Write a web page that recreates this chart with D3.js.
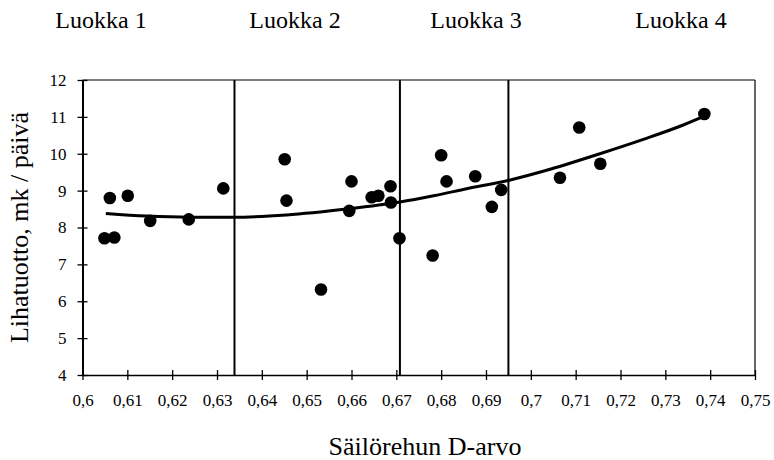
<!DOCTYPE html>
<html>
<head>
<meta charset="utf-8">
<script src="https://cdn.jsdelivr.net/npm/d3@7"></script>
<style>
  html, body { margin: 0; padding: 0; background: #fff; }
  svg, svg text { font-family: "Liberation Serif", "DejaVu Serif", "Times New Roman", serif !important; }
</style>
</head>
<body>
<svg id="chart" width="774" height="460"></svg>
<script>
// ---- data ----
const classLabels = ["Luokka 1", "Luokka 2", "Luokka 3", "Luokka 4"];
const classBounds = [0.6339, 0.6708, 0.695];
const xVals = [0.6049, 0.6071, 0.6061, 0.6101, 0.6151, 0.6237, 0.6314, 0.6451, 0.6455, 0.6532,
               0.6600, 0.6595, 0.6645, 0.6660, 0.6687, 0.6688, 0.6707, 0.6781, 0.6800, 0.6812,
               0.6876, 0.6913, 0.6934, 0.7065, 0.7108, 0.7155, 0.7387];
const yVals = [7.71, 7.73, 8.80, 8.86, 8.18, 8.22, 9.06, 9.85, 8.73, 6.32,
               9.25, 8.45, 8.82, 8.86, 9.12, 8.68, 7.71, 7.24, 9.96, 9.25,
               9.39, 8.56, 9.02, 9.35, 10.71, 9.73, 11.08];
const trendX = [0.6052, 0.6143, 0.6240, 0.6336, 0.6455, 0.6589, 0.6708, 0.6783, 0.6857,
                0.6954, 0.7043, 0.7154, 0.7251, 0.7340, 0.7387];
const trendY = [8.38, 8.31, 8.28, 8.28, 8.34, 8.50, 8.69, 8.86, 9.05,
                9.29, 9.58, 10.00, 10.39, 10.78, 11.02];
const xTicks = [0.6, 0.61, 0.62, 0.63, 0.64, 0.65, 0.66, 0.67, 0.68, 0.69, 0.7, 0.71, 0.72, 0.73, 0.74, 0.75];
const yTicks = [4, 5, 6, 7, 8, 9, 10, 11, 12];
const xTitle = "Säilörehun D-arvo";
const yTitle = "Lihatuotto, mk / päivä";

// ---- layout ----
const FONT = "'Liberation Serif', 'DejaVu Serif', 'Times New Roman', serif";
const svg = d3.select("#chart").attr("font-family", FONT);
const x = d3.scaleLinear().domain([0.6, 0.75]).range([82.5, 755]);
const y = d3.scaleLinear().domain([4, 12]).range([375, 80]);
const fmt = v => String(+v.toFixed(2)).replace(".", ",");

// frame (top and right)
svg.append("line").attr("x1", x(0.6)).attr("x2", x(0.75)).attr("y1", y(12)).attr("y2", y(12))
  .attr("stroke", "#000").attr("stroke-width", 1.2);
svg.append("line").attr("x1", x(0.75)).attr("x2", x(0.75)).attr("y1", y(12)).attr("y2", y(4))
  .attr("stroke", "#000").attr("stroke-width", 1.2);

// class dividers
svg.append("g").selectAll("line").data(classBounds).join("line")
  .attr("x1", d => x(d)).attr("x2", d => x(d))
  .attr("y1", y(12)).attr("y2", y(4))
  .attr("stroke", "#000").attr("stroke-width", 2);

// x axis
const xAxis = svg.append("g").attr("transform", `translate(0,${y(4)})`)
  .call(d3.axisBottom(x).tickValues(xTicks).tickFormat(fmt).tickSizeInner(5).tickSizeOuter(0).tickPadding(14));
xAxis.attr("font-family", FONT);
xAxis.select(".domain").attr("stroke-width", 1.6);
xAxis.selectAll(".tick line").attr("y1", -5).attr("stroke-width", 1.3);
xAxis.selectAll("text").attr("font-size", 17).attr("font-family", FONT).attr("fill", "#000");

// y axis
const yAxis = svg.append("g").attr("transform", `translate(${x(0.6)},0)`)
  .call(d3.axisLeft(y).tickValues(yTicks).tickFormat(d => d).tickSizeInner(5).tickSizeOuter(0).tickPadding(11));
yAxis.attr("font-family", FONT);
yAxis.select(".domain").attr("stroke-width", 2);
yAxis.selectAll(".tick line").attr("x1", 5).attr("x2", -5).attr("stroke-width", 1.3);
yAxis.selectAll("text").attr("font-size", 17).attr("font-family", FONT).attr("fill", "#000");

// trend line
const trend = trendX.map((d, i) => [d, trendY[i]]);
svg.append("path").datum(trend)
  .attr("d", d3.line().x(d => x(d[0])).y(d => y(d[1])).curve(d3.curveMonotoneX))
  .attr("fill", "none").attr("stroke", "#000").attr("stroke-width", 3);

// points
const pts = xVals.map((d, i) => [d, yVals[i]]);
svg.append("g").selectAll("circle").data(pts).join("circle")
  .attr("cx", d => x(d[0])).attr("cy", d => y(d[1])).attr("r", 6.3).attr("fill", "#000");

// class labels
const classCenters = [101, 295, 476, 681];
svg.append("g").selectAll("text").data(classLabels).join("text")
  .attr("x", (d, i) => classCenters[i]).attr("y", 28)
  .attr("text-anchor", "middle").attr("font-size", 24).attr("font-family", FONT).attr("fill", "#000")
  .text(d => d);

// axis titles
svg.append("text").attr("x", 425).attr("y", 455).attr("text-anchor", "middle")
  .attr("font-size", 26).attr("font-family", FONT).attr("fill", "#000").text(xTitle);
svg.append("text").attr("transform", `translate(28,${(y(4) + y(12)) / 2}) rotate(-90)`)
  .attr("text-anchor", "middle").attr("font-size", 26).attr("font-family", FONT).attr("fill", "#000").text(yTitle);
</script>
</body>
</html>
